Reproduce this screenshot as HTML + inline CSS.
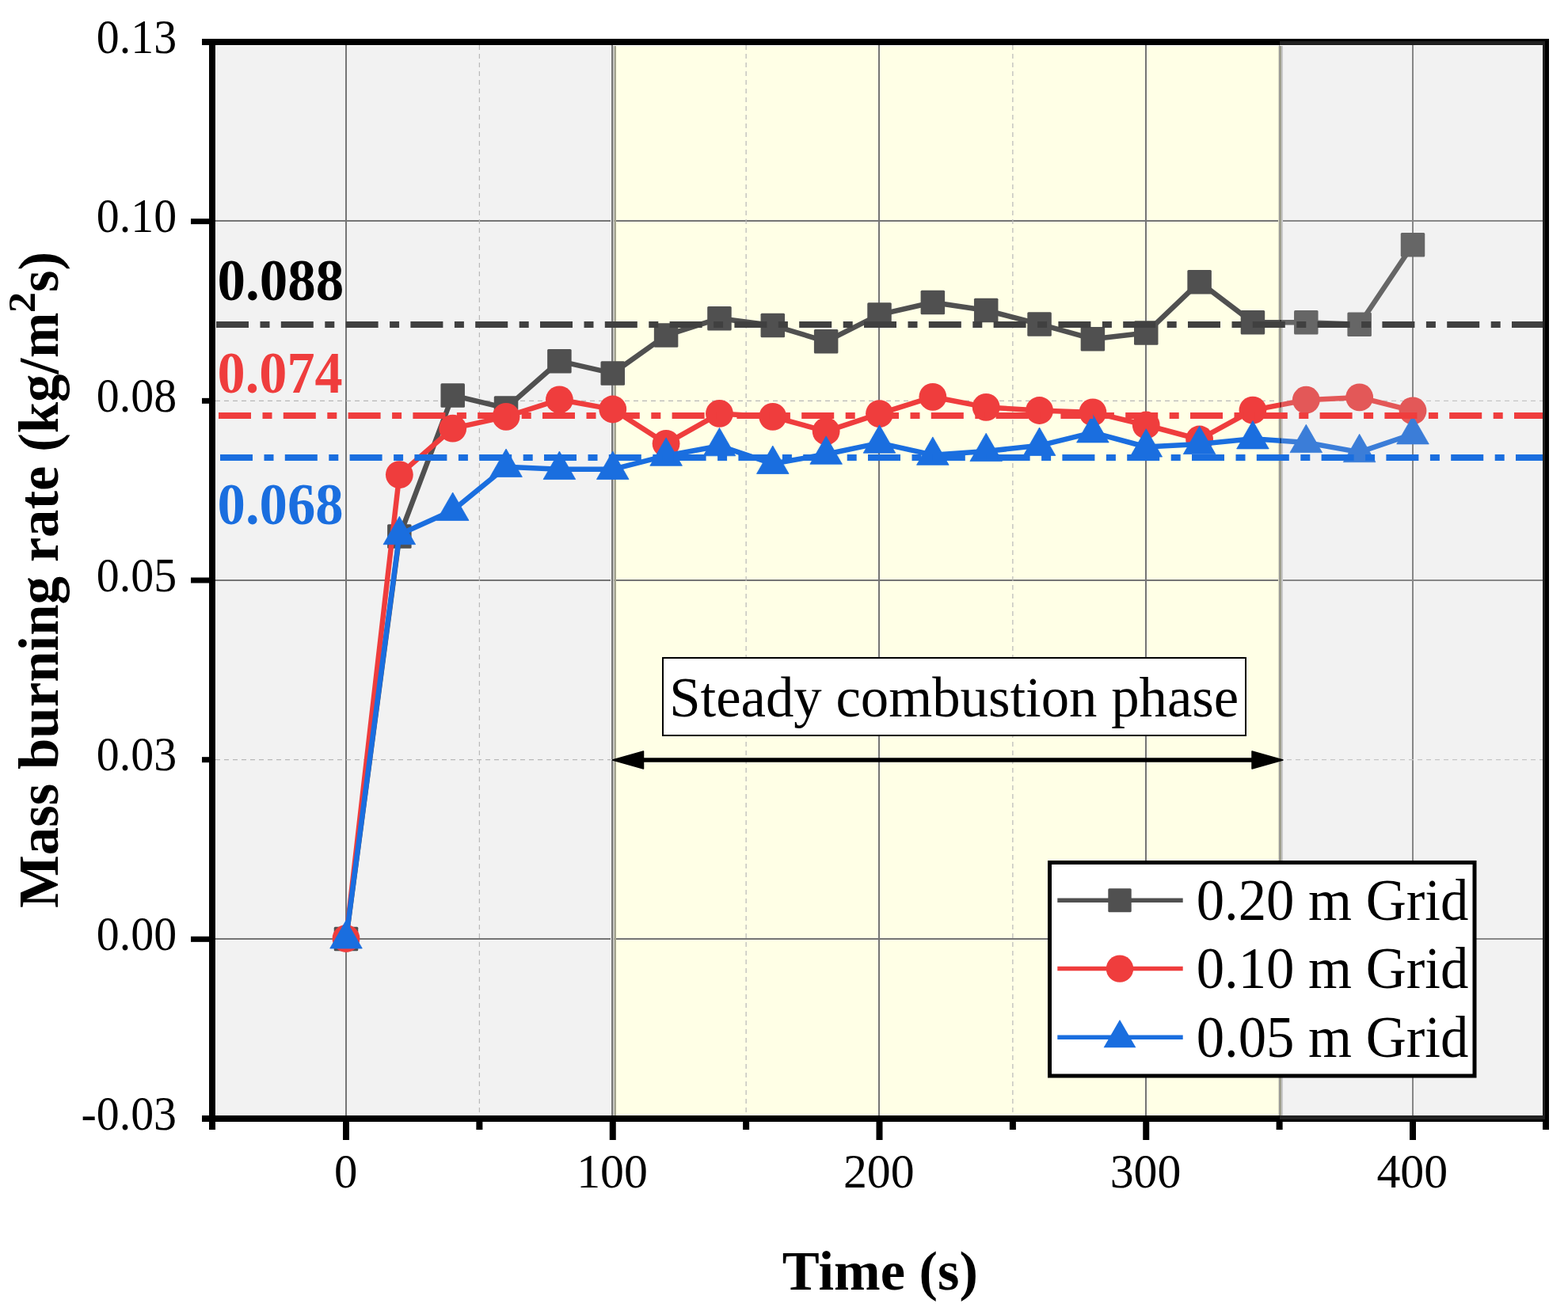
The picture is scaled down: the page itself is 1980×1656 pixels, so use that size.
<!DOCTYPE html>
<html><head><meta charset="utf-8"><title>Mass burning rate chart</title>
<style>html,body{margin:0;padding:0;background:#fff;}svg{display:block;}text{font-family:"Liberation Serif","Times New Roman",serif;}</style></head><body>
<svg width="1980" height="1656" viewBox="0 0 1980 1656">
<defs>
<clipPath id="cpL"><rect x="272.0" y="57.0" width="1346.0" height="1352.0"/></clipPath>
<clipPath id="cpR"><rect x="1618" y="57.0" width="330.0" height="1352.0"/></clipPath>
<clipPath id="cpP"><rect x="272.0" y="57.0" width="1676.0" height="1352.0"/></clipPath>
</defs>
<rect x="0" y="0" width="1980" height="1656" fill="#ffffff"/>
<rect x="273.0" y="58.0" width="1675.0" height="1351.0" fill="#f2f2f2"/>
<rect x="776" y="58.0" width="838" height="1351.0" fill="#ffffe6"/>
<g clip-path="url(#cpL)"><line x1="437" y1="57.0" x2="437" y2="1409.0" stroke="#757575" stroke-width="2"/><line x1="773" y1="57.0" x2="773" y2="1409.0" stroke="#757575" stroke-width="2"/><line x1="1110" y1="57.0" x2="1110" y2="1409.0" stroke="#757575" stroke-width="2"/><line x1="1447" y1="57.0" x2="1447" y2="1409.0" stroke="#757575" stroke-width="2"/><line x1="1784" y1="57.0" x2="1784" y2="1409.0" stroke="#757575" stroke-width="2"/><line x1="272.0" y1="279" x2="1948.0" y2="279" stroke="#757575" stroke-width="2"/><line x1="272.0" y1="733" x2="1948.0" y2="733" stroke="#757575" stroke-width="2"/><line x1="272.0" y1="1186" x2="1948.0" y2="1186" stroke="#757575" stroke-width="2"/><line x1="605.38" y1="57.0" x2="605.38" y2="1409.0" stroke="#b8b8b8" stroke-width="1.2" stroke-dasharray="6 5"/><line x1="942.12" y1="57.0" x2="942.12" y2="1409.0" stroke="#b8b8b8" stroke-width="1.2" stroke-dasharray="6 5"/><line x1="1278.88" y1="57.0" x2="1278.88" y2="1409.0" stroke="#b8b8b8" stroke-width="1.2" stroke-dasharray="6 5"/><line x1="1615.62" y1="57.0" x2="1615.62" y2="1409.0" stroke="#b8b8b8" stroke-width="1.2" stroke-dasharray="6 5"/><line x1="272.0" y1="506.4" x2="1948.0" y2="506.4" stroke="#b8b8b8" stroke-width="1.2" stroke-dasharray="6 5"/><line x1="272.0" y1="959.6" x2="1948.0" y2="959.6" stroke="#b8b8b8" stroke-width="1.2" stroke-dasharray="6 5"/></g>
<g clip-path="url(#cpR)"><line x1="437" y1="57.0" x2="437" y2="1409.0" stroke="#878787" stroke-width="2"/><line x1="773" y1="57.0" x2="773" y2="1409.0" stroke="#878787" stroke-width="2"/><line x1="1110" y1="57.0" x2="1110" y2="1409.0" stroke="#878787" stroke-width="2"/><line x1="1447" y1="57.0" x2="1447" y2="1409.0" stroke="#878787" stroke-width="2"/><line x1="1784" y1="57.0" x2="1784" y2="1409.0" stroke="#878787" stroke-width="2"/><line x1="272.0" y1="279" x2="1948.0" y2="279" stroke="#878787" stroke-width="2"/><line x1="272.0" y1="733" x2="1948.0" y2="733" stroke="#878787" stroke-width="2"/><line x1="272.0" y1="1186" x2="1948.0" y2="1186" stroke="#878787" stroke-width="2"/><line x1="605.38" y1="57.0" x2="605.38" y2="1409.0" stroke="#c5c5c5" stroke-width="1.2" stroke-dasharray="6 5"/><line x1="942.12" y1="57.0" x2="942.12" y2="1409.0" stroke="#c5c5c5" stroke-width="1.2" stroke-dasharray="6 5"/><line x1="1278.88" y1="57.0" x2="1278.88" y2="1409.0" stroke="#c5c5c5" stroke-width="1.2" stroke-dasharray="6 5"/><line x1="1615.62" y1="57.0" x2="1615.62" y2="1409.0" stroke="#c5c5c5" stroke-width="1.2" stroke-dasharray="6 5"/><line x1="272.0" y1="506.4" x2="1948.0" y2="506.4" stroke="#c5c5c5" stroke-width="1.2" stroke-dasharray="6 5"/><line x1="272.0" y1="959.6" x2="1948.0" y2="959.6" stroke="#c5c5c5" stroke-width="1.2" stroke-dasharray="6 5"/></g>
<rect x="771" y="58.0" width="1" height="1351.0" fill="#f8f8f8"/>
<rect x="774" y="58.0" width="1.6" height="1351.0" fill="#c6c6c2"/>
<rect x="775.6" y="58.0" width="2.4" height="1351.0" fill="#a3a38f"/>
<rect x="1614" y="58.0" width="1" height="1351.0" fill="#e0e0c8"/>
<rect x="1615" y="58.0" width="1" height="1351.0" fill="#999999"/>
<rect x="1616" y="58.0" width="2" height="1351.0" fill="#ffffe6"/>
<rect x="1618" y="58.0" width="2" height="1351.0" fill="#c8c8c8"/>
<g clip-path="url(#cpL)"><polyline points="437,1186 504.35,677.6 571.7,499.4 639.05,515.5 706.4,456.2 773.75,471.5 841.1,423.6 908.45,402.2 975.8,411 1043.15,431.3 1110.5,397.4 1177.85,382 1245.2,392 1312.55,409.4 1379.9,428.2 1447.25,420.6 1514.6,356.3 1581.95,407.3 1649.3,407.3 1716.65,409.8 1784,309.3" fill="none" stroke="#505050" stroke-width="6.5" stroke-linejoin="round"/><rect x="421.75" y="1170.75" width="30.5" height="30.5" rx="1.5" fill="#505050"/><rect x="489.1" y="662.35" width="30.5" height="30.5" rx="1.5" fill="#505050"/><rect x="556.45" y="484.15" width="30.5" height="30.5" rx="1.5" fill="#505050"/><rect x="623.8" y="500.25" width="30.5" height="30.5" rx="1.5" fill="#505050"/><rect x="691.15" y="440.95" width="30.5" height="30.5" rx="1.5" fill="#505050"/><rect x="758.5" y="456.25" width="30.5" height="30.5" rx="1.5" fill="#505050"/><rect x="825.85" y="408.35" width="30.5" height="30.5" rx="1.5" fill="#505050"/><rect x="893.2" y="386.95" width="30.5" height="30.5" rx="1.5" fill="#505050"/><rect x="960.55" y="395.75" width="30.5" height="30.5" rx="1.5" fill="#505050"/><rect x="1027.9" y="416.05" width="30.5" height="30.5" rx="1.5" fill="#505050"/><rect x="1095.25" y="382.15" width="30.5" height="30.5" rx="1.5" fill="#505050"/><rect x="1162.6" y="366.75" width="30.5" height="30.5" rx="1.5" fill="#505050"/><rect x="1229.95" y="376.75" width="30.5" height="30.5" rx="1.5" fill="#505050"/><rect x="1297.3" y="394.15" width="30.5" height="30.5" rx="1.5" fill="#505050"/><rect x="1364.65" y="412.95" width="30.5" height="30.5" rx="1.5" fill="#505050"/><rect x="1432" y="405.35" width="30.5" height="30.5" rx="1.5" fill="#505050"/><rect x="1499.35" y="341.05" width="30.5" height="30.5" rx="1.5" fill="#505050"/><rect x="1566.7" y="392.05" width="30.5" height="30.5" rx="1.5" fill="#505050"/><rect x="1634.05" y="392.05" width="30.5" height="30.5" rx="1.5" fill="#505050"/><rect x="1701.4" y="394.55" width="30.5" height="30.5" rx="1.5" fill="#505050"/><rect x="1768.75" y="294.05" width="30.5" height="30.5" rx="1.5" fill="#505050"/><polyline points="437,1185.5 504.35,599.6 571.7,541.2 639.05,526.3 706.4,504.8 773.75,517 841.1,560.3 908.45,522.4 975.8,526.4 1043.15,544.8 1110.5,522.6 1177.85,501.3 1245.2,514.4 1312.55,518.5 1379.9,520.9 1447.25,537 1514.6,555 1581.95,518.1 1649.3,505.2 1716.65,501.9 1784,518.9" fill="none" stroke="#ef3d3d" stroke-width="6.5" stroke-linejoin="round"/><circle cx="437" cy="1185.5" r="17.4" fill="#ef3d3d"/><circle cx="504.35" cy="599.6" r="17.4" fill="#ef3d3d"/><circle cx="571.7" cy="541.2" r="17.4" fill="#ef3d3d"/><circle cx="639.05" cy="526.3" r="17.4" fill="#ef3d3d"/><circle cx="706.4" cy="504.8" r="17.4" fill="#ef3d3d"/><circle cx="773.75" cy="517" r="17.4" fill="#ef3d3d"/><circle cx="841.1" cy="560.3" r="17.4" fill="#ef3d3d"/><circle cx="908.45" cy="522.4" r="17.4" fill="#ef3d3d"/><circle cx="975.8" cy="526.4" r="17.4" fill="#ef3d3d"/><circle cx="1043.15" cy="544.8" r="17.4" fill="#ef3d3d"/><circle cx="1110.5" cy="522.6" r="17.4" fill="#ef3d3d"/><circle cx="1177.85" cy="501.3" r="17.4" fill="#ef3d3d"/><circle cx="1245.2" cy="514.4" r="17.4" fill="#ef3d3d"/><circle cx="1312.55" cy="518.5" r="17.4" fill="#ef3d3d"/><circle cx="1379.9" cy="520.9" r="17.4" fill="#ef3d3d"/><circle cx="1447.25" cy="537" r="17.4" fill="#ef3d3d"/><circle cx="1514.6" cy="555" r="17.4" fill="#ef3d3d"/><circle cx="1581.95" cy="518.1" r="17.4" fill="#ef3d3d"/><circle cx="1649.3" cy="505.2" r="17.4" fill="#ef3d3d"/><circle cx="1716.65" cy="501.9" r="17.4" fill="#ef3d3d"/><circle cx="1784" cy="518.9" r="17.4" fill="#ef3d3d"/><polyline points="437,1185.4 504.35,675.1 571.7,644.8 639.05,589.8 706.4,592.8 773.75,592.8 841.1,575.7 908.45,563.2 975.8,585.8 1043.15,573.7 1110.5,559.6 1177.85,574.7 1245.2,570 1312.55,562.8 1379.9,546.3 1447.25,564.5 1514.6,561 1581.95,554.3 1649.3,559 1716.65,571.1 1784,548.3" fill="none" stroke="#1a6edf" stroke-width="6.5" stroke-linejoin="round"/><polygon points="437,1162.6 457.3,1198 416.7,1198" fill="#1a6edf" stroke="#1a6edf" stroke-width="0.8" stroke-linejoin="round"/><polygon points="504.35,652.3 524.65,687.7 484.05,687.7" fill="#1a6edf" stroke="#1a6edf" stroke-width="0.8" stroke-linejoin="round"/><polygon points="571.7,622 592,657.4 551.4,657.4" fill="#1a6edf" stroke="#1a6edf" stroke-width="0.8" stroke-linejoin="round"/><polygon points="639.05,567 659.35,602.4 618.75,602.4" fill="#1a6edf" stroke="#1a6edf" stroke-width="0.8" stroke-linejoin="round"/><polygon points="706.4,570 726.7,605.4 686.1,605.4" fill="#1a6edf" stroke="#1a6edf" stroke-width="0.8" stroke-linejoin="round"/><polygon points="773.75,570 794.05,605.4 753.45,605.4" fill="#1a6edf" stroke="#1a6edf" stroke-width="0.8" stroke-linejoin="round"/><polygon points="841.1,552.9 861.4,588.3 820.8,588.3" fill="#1a6edf" stroke="#1a6edf" stroke-width="0.8" stroke-linejoin="round"/><polygon points="908.45,540.4 928.75,575.8 888.15,575.8" fill="#1a6edf" stroke="#1a6edf" stroke-width="0.8" stroke-linejoin="round"/><polygon points="975.8,563 996.1,598.4 955.5,598.4" fill="#1a6edf" stroke="#1a6edf" stroke-width="0.8" stroke-linejoin="round"/><polygon points="1043.15,550.9 1063.45,586.3 1022.85,586.3" fill="#1a6edf" stroke="#1a6edf" stroke-width="0.8" stroke-linejoin="round"/><polygon points="1110.5,536.8 1130.8,572.2 1090.2,572.2" fill="#1a6edf" stroke="#1a6edf" stroke-width="0.8" stroke-linejoin="round"/><polygon points="1177.85,551.9 1198.15,587.3 1157.55,587.3" fill="#1a6edf" stroke="#1a6edf" stroke-width="0.8" stroke-linejoin="round"/><polygon points="1245.2,547.2 1265.5,582.6 1224.9,582.6" fill="#1a6edf" stroke="#1a6edf" stroke-width="0.8" stroke-linejoin="round"/><polygon points="1312.55,540 1332.85,575.4 1292.25,575.4" fill="#1a6edf" stroke="#1a6edf" stroke-width="0.8" stroke-linejoin="round"/><polygon points="1379.9,523.5 1400.2,558.9 1359.6,558.9" fill="#1a6edf" stroke="#1a6edf" stroke-width="0.8" stroke-linejoin="round"/><polygon points="1447.25,541.7 1467.55,577.1 1426.95,577.1" fill="#1a6edf" stroke="#1a6edf" stroke-width="0.8" stroke-linejoin="round"/><polygon points="1514.6,538.2 1534.9,573.6 1494.3,573.6" fill="#1a6edf" stroke="#1a6edf" stroke-width="0.8" stroke-linejoin="round"/><polygon points="1581.95,531.5 1602.25,566.9 1561.65,566.9" fill="#1a6edf" stroke="#1a6edf" stroke-width="0.8" stroke-linejoin="round"/><polygon points="1649.3,536.2 1669.6,571.6 1629,571.6" fill="#1a6edf" stroke="#1a6edf" stroke-width="0.8" stroke-linejoin="round"/><polygon points="1716.65,548.3 1736.95,583.7 1696.35,583.7" fill="#1a6edf" stroke="#1a6edf" stroke-width="0.8" stroke-linejoin="round"/><polygon points="1784,525.5 1804.3,560.9 1763.7,560.9" fill="#1a6edf" stroke="#1a6edf" stroke-width="0.8" stroke-linejoin="round"/></g>
<g clip-path="url(#cpR)"><polyline points="437,1186 504.35,677.6 571.7,499.4 639.05,515.5 706.4,456.2 773.75,471.5 841.1,423.6 908.45,402.2 975.8,411 1043.15,431.3 1110.5,397.4 1177.85,382 1245.2,392 1312.55,409.4 1379.9,428.2 1447.25,420.6 1514.6,356.3 1581.95,407.3 1649.3,407.3 1716.65,409.8 1784,309.3" fill="none" stroke="#666666" stroke-width="6.5" stroke-linejoin="round"/><rect x="421.75" y="1170.75" width="30.5" height="30.5" rx="1.5" fill="#666666"/><rect x="489.1" y="662.35" width="30.5" height="30.5" rx="1.5" fill="#666666"/><rect x="556.45" y="484.15" width="30.5" height="30.5" rx="1.5" fill="#666666"/><rect x="623.8" y="500.25" width="30.5" height="30.5" rx="1.5" fill="#666666"/><rect x="691.15" y="440.95" width="30.5" height="30.5" rx="1.5" fill="#666666"/><rect x="758.5" y="456.25" width="30.5" height="30.5" rx="1.5" fill="#666666"/><rect x="825.85" y="408.35" width="30.5" height="30.5" rx="1.5" fill="#666666"/><rect x="893.2" y="386.95" width="30.5" height="30.5" rx="1.5" fill="#666666"/><rect x="960.55" y="395.75" width="30.5" height="30.5" rx="1.5" fill="#666666"/><rect x="1027.9" y="416.05" width="30.5" height="30.5" rx="1.5" fill="#666666"/><rect x="1095.25" y="382.15" width="30.5" height="30.5" rx="1.5" fill="#666666"/><rect x="1162.6" y="366.75" width="30.5" height="30.5" rx="1.5" fill="#666666"/><rect x="1229.95" y="376.75" width="30.5" height="30.5" rx="1.5" fill="#666666"/><rect x="1297.3" y="394.15" width="30.5" height="30.5" rx="1.5" fill="#666666"/><rect x="1364.65" y="412.95" width="30.5" height="30.5" rx="1.5" fill="#666666"/><rect x="1432" y="405.35" width="30.5" height="30.5" rx="1.5" fill="#666666"/><rect x="1499.35" y="341.05" width="30.5" height="30.5" rx="1.5" fill="#666666"/><rect x="1566.7" y="392.05" width="30.5" height="30.5" rx="1.5" fill="#666666"/><rect x="1634.05" y="392.05" width="30.5" height="30.5" rx="1.5" fill="#666666"/><rect x="1701.4" y="394.55" width="30.5" height="30.5" rx="1.5" fill="#666666"/><rect x="1768.75" y="294.05" width="30.5" height="30.5" rx="1.5" fill="#666666"/><polyline points="437,1185.5 504.35,599.6 571.7,541.2 639.05,526.3 706.4,504.8 773.75,517 841.1,560.3 908.45,522.4 975.8,526.4 1043.15,544.8 1110.5,522.6 1177.85,501.3 1245.2,514.4 1312.55,518.5 1379.9,520.9 1447.25,537 1514.6,555 1581.95,518.1 1649.3,505.2 1716.65,501.9 1784,518.9" fill="none" stroke="#e35858" stroke-width="6.5" stroke-linejoin="round"/><circle cx="437" cy="1185.5" r="17.4" fill="#e35858"/><circle cx="504.35" cy="599.6" r="17.4" fill="#e35858"/><circle cx="571.7" cy="541.2" r="17.4" fill="#e35858"/><circle cx="639.05" cy="526.3" r="17.4" fill="#e35858"/><circle cx="706.4" cy="504.8" r="17.4" fill="#e35858"/><circle cx="773.75" cy="517" r="17.4" fill="#e35858"/><circle cx="841.1" cy="560.3" r="17.4" fill="#e35858"/><circle cx="908.45" cy="522.4" r="17.4" fill="#e35858"/><circle cx="975.8" cy="526.4" r="17.4" fill="#e35858"/><circle cx="1043.15" cy="544.8" r="17.4" fill="#e35858"/><circle cx="1110.5" cy="522.6" r="17.4" fill="#e35858"/><circle cx="1177.85" cy="501.3" r="17.4" fill="#e35858"/><circle cx="1245.2" cy="514.4" r="17.4" fill="#e35858"/><circle cx="1312.55" cy="518.5" r="17.4" fill="#e35858"/><circle cx="1379.9" cy="520.9" r="17.4" fill="#e35858"/><circle cx="1447.25" cy="537" r="17.4" fill="#e35858"/><circle cx="1514.6" cy="555" r="17.4" fill="#e35858"/><circle cx="1581.95" cy="518.1" r="17.4" fill="#e35858"/><circle cx="1649.3" cy="505.2" r="17.4" fill="#e35858"/><circle cx="1716.65" cy="501.9" r="17.4" fill="#e35858"/><circle cx="1784" cy="518.9" r="17.4" fill="#e35858"/><polyline points="437,1185.4 504.35,675.1 571.7,644.8 639.05,589.8 706.4,592.8 773.75,592.8 841.1,575.7 908.45,563.2 975.8,585.8 1043.15,573.7 1110.5,559.6 1177.85,574.7 1245.2,570 1312.55,562.8 1379.9,546.3 1447.25,564.5 1514.6,561 1581.95,554.3 1649.3,559 1716.65,571.1 1784,548.3" fill="none" stroke="#3b7dd8" stroke-width="6.5" stroke-linejoin="round"/><polygon points="437,1162.6 457.3,1198 416.7,1198" fill="#3b7dd8" stroke="#3b7dd8" stroke-width="0.8" stroke-linejoin="round"/><polygon points="504.35,652.3 524.65,687.7 484.05,687.7" fill="#3b7dd8" stroke="#3b7dd8" stroke-width="0.8" stroke-linejoin="round"/><polygon points="571.7,622 592,657.4 551.4,657.4" fill="#3b7dd8" stroke="#3b7dd8" stroke-width="0.8" stroke-linejoin="round"/><polygon points="639.05,567 659.35,602.4 618.75,602.4" fill="#3b7dd8" stroke="#3b7dd8" stroke-width="0.8" stroke-linejoin="round"/><polygon points="706.4,570 726.7,605.4 686.1,605.4" fill="#3b7dd8" stroke="#3b7dd8" stroke-width="0.8" stroke-linejoin="round"/><polygon points="773.75,570 794.05,605.4 753.45,605.4" fill="#3b7dd8" stroke="#3b7dd8" stroke-width="0.8" stroke-linejoin="round"/><polygon points="841.1,552.9 861.4,588.3 820.8,588.3" fill="#3b7dd8" stroke="#3b7dd8" stroke-width="0.8" stroke-linejoin="round"/><polygon points="908.45,540.4 928.75,575.8 888.15,575.8" fill="#3b7dd8" stroke="#3b7dd8" stroke-width="0.8" stroke-linejoin="round"/><polygon points="975.8,563 996.1,598.4 955.5,598.4" fill="#3b7dd8" stroke="#3b7dd8" stroke-width="0.8" stroke-linejoin="round"/><polygon points="1043.15,550.9 1063.45,586.3 1022.85,586.3" fill="#3b7dd8" stroke="#3b7dd8" stroke-width="0.8" stroke-linejoin="round"/><polygon points="1110.5,536.8 1130.8,572.2 1090.2,572.2" fill="#3b7dd8" stroke="#3b7dd8" stroke-width="0.8" stroke-linejoin="round"/><polygon points="1177.85,551.9 1198.15,587.3 1157.55,587.3" fill="#3b7dd8" stroke="#3b7dd8" stroke-width="0.8" stroke-linejoin="round"/><polygon points="1245.2,547.2 1265.5,582.6 1224.9,582.6" fill="#3b7dd8" stroke="#3b7dd8" stroke-width="0.8" stroke-linejoin="round"/><polygon points="1312.55,540 1332.85,575.4 1292.25,575.4" fill="#3b7dd8" stroke="#3b7dd8" stroke-width="0.8" stroke-linejoin="round"/><polygon points="1379.9,523.5 1400.2,558.9 1359.6,558.9" fill="#3b7dd8" stroke="#3b7dd8" stroke-width="0.8" stroke-linejoin="round"/><polygon points="1447.25,541.7 1467.55,577.1 1426.95,577.1" fill="#3b7dd8" stroke="#3b7dd8" stroke-width="0.8" stroke-linejoin="round"/><polygon points="1514.6,538.2 1534.9,573.6 1494.3,573.6" fill="#3b7dd8" stroke="#3b7dd8" stroke-width="0.8" stroke-linejoin="round"/><polygon points="1581.95,531.5 1602.25,566.9 1561.65,566.9" fill="#3b7dd8" stroke="#3b7dd8" stroke-width="0.8" stroke-linejoin="round"/><polygon points="1649.3,536.2 1669.6,571.6 1629,571.6" fill="#3b7dd8" stroke="#3b7dd8" stroke-width="0.8" stroke-linejoin="round"/><polygon points="1716.65,548.3 1736.95,583.7 1696.35,583.7" fill="#3b7dd8" stroke="#3b7dd8" stroke-width="0.8" stroke-linejoin="round"/><polygon points="1784,525.5 1804.3,560.9 1763.7,560.9" fill="#3b7dd8" stroke="#3b7dd8" stroke-width="0.8" stroke-linejoin="round"/></g>
<rect x="1616" y="58.0" width="2" height="1351.0" fill="#000000" fill-opacity="0.375"/>
<g clip-path="url(#cpP)">
<line x1="273" y1="410" x2="1948.0" y2="410" stroke="#404040" stroke-width="8" stroke-dasharray="41 14.5 12 14.3"/>
<line x1="276" y1="525" x2="1948.0" y2="525" stroke="#ef3d3d" stroke-width="8" stroke-dasharray="41 14.5 12 14.3"/>
<line x1="278" y1="578" x2="1948.0" y2="578" stroke="#1a6edf" stroke-width="8" stroke-dasharray="41 14.5 12 14.3"/>
</g>
<text x="274.56" y="378.80" font-size="75" font-weight="bold" fill="#000000" textLength="159.64" lengthAdjust="spacingAndGlyphs">0.088</text>
<text x="274.59" y="495.50" font-size="75" font-weight="bold" fill="#ef3d3d" textLength="158.05" lengthAdjust="spacingAndGlyphs">0.074</text>
<text x="274.57" y="662.00" font-size="75" font-weight="bold" fill="#1a6edf" textLength="159.02" lengthAdjust="spacingAndGlyphs">0.068</text>
<rect x="837" y="831" width="736" height="98" fill="#ffffff" stroke="#000000" stroke-width="2"/>
<text x="845.18" y="904.80" font-size="72" fill="#000000" textLength="719.07" lengthAdjust="spacingAndGlyphs">Steady combustion phase</text>
<line x1="808" y1="960" x2="1585" y2="960" stroke="#000000" stroke-width="5.4"/>
<polygon points="773.5,960 812.5,949 812.5,971" fill="#000" stroke="#000" stroke-width="1.5" stroke-linejoin="round"/>
<polygon points="1620,960 1581,949 1581,971" fill="#000" stroke="#000" stroke-width="1.5" stroke-linejoin="round"/>
<rect x="1325.5" y="1089.5" width="536.5" height="269.5" fill="#ffffff" stroke="#000000" stroke-width="5"/>
<line x1="1335.3" y1="1137.2" x2="1493.7" y2="1137.2" stroke="#505050" stroke-width="5.5"/>
<rect x="1399.3" y="1122.2" width="29.4" height="30" rx="1.5" fill="#505050"/>
<line x1="1335.3" y1="1223.6" x2="1493.7" y2="1223.6" stroke="#ef3d3d" stroke-width="5.5"/>
<circle cx="1414" cy="1223.6" r="17.2" fill="#ef3d3d"/>
<line x1="1335.3" y1="1310.3" x2="1493.7" y2="1310.3" stroke="#1a6edf" stroke-width="5.5"/>
<polygon points="1414,1287.9 1434.4,1323.3 1393.6,1323.3" fill="#1a6edf"/>
<text x="1510.67" y="1161.50" font-size="73" fill="#000000" textLength="343.67" lengthAdjust="spacingAndGlyphs">0.20 m Grid</text>
<text x="1510.67" y="1248.20" font-size="73" fill="#000000" textLength="343.67" lengthAdjust="spacingAndGlyphs">0.10 m Grid</text>
<text x="1510.67" y="1334.80" font-size="73" fill="#000000" textLength="343.67" lengthAdjust="spacingAndGlyphs">0.05 m Grid</text>
<rect x="255" y="49" width="1701" height="8" fill="#000"/>
<rect x="264" y="49" width="8" height="1378" fill="#000"/>
<rect x="255" y="1409" width="1701" height="8" fill="#000"/>
<rect x="1948" y="49" width="8" height="1378" fill="#000"/>
<rect x="241" y="276.17" width="23" height="7" fill="#000"/>
<rect x="241" y="729.5" width="23" height="7" fill="#000"/>
<rect x="241" y="1182.84" width="23" height="7" fill="#000"/>
<rect x="255" y="502.84" width="9" height="7" fill="#000"/>
<rect x="255" y="956.17" width="9" height="7" fill="#000"/>
<rect x="433" y="1417" width="8" height="23" fill="#000"/>
<rect x="769.75" y="1417" width="8" height="23" fill="#000"/>
<rect x="1106.5" y="1417" width="8" height="23" fill="#000"/>
<rect x="1443.25" y="1417" width="8" height="23" fill="#000"/>
<rect x="1780" y="1417" width="8" height="23" fill="#000"/>
<rect x="601.38" y="1417" width="8" height="10" fill="#000"/>
<rect x="938.12" y="1417" width="8" height="10" fill="#000"/>
<rect x="1274.88" y="1417" width="8" height="10" fill="#000"/>
<rect x="1611.62" y="1417" width="8" height="10" fill="#000"/>
<rect x="1616" y="52" width="335" height="5" fill="#222222"/>
<rect x="1616" y="1409" width="335" height="5" fill="#222222"/>
<rect x="1948" y="52" width="3" height="1362" fill="#202020"/>
<text x="121.86" y="66.80" font-size="61.5" fill="#000000" textLength="101.20" lengthAdjust="spacingAndGlyphs">0.13</text>
<text x="121.86" y="293.47" font-size="61.5" fill="#000000" textLength="101.20" lengthAdjust="spacingAndGlyphs">0.10</text>
<text x="121.86" y="520.13" font-size="61.5" fill="#000000" textLength="101.20" lengthAdjust="spacingAndGlyphs">0.08</text>
<text x="121.86" y="746.80" font-size="61.5" fill="#000000" textLength="101.20" lengthAdjust="spacingAndGlyphs">0.05</text>
<text x="121.86" y="973.47" font-size="61.5" fill="#000000" textLength="101.20" lengthAdjust="spacingAndGlyphs">0.03</text>
<text x="121.86" y="1200.14" font-size="61.5" fill="#000000" textLength="101.20" lengthAdjust="spacingAndGlyphs">0.00</text>
<text x="102.56" y="1426.81" font-size="61.5" fill="#000000" textLength="120.49" lengthAdjust="spacingAndGlyphs">-0.03</text>
<text x="422.03" y="1500.00" font-size="61.5" fill="#000000" textLength="29.40" lengthAdjust="spacingAndGlyphs">0</text>
<text x="728.15" y="1500.00" font-size="61.5" fill="#000000" textLength="89.72" lengthAdjust="spacingAndGlyphs">100</text>
<text x="1064.90" y="1500.00" font-size="61.5" fill="#000000" textLength="89.72" lengthAdjust="spacingAndGlyphs">200</text>
<text x="1401.65" y="1500.00" font-size="61.5" fill="#000000" textLength="89.72" lengthAdjust="spacingAndGlyphs">300</text>
<text x="1738.40" y="1500.00" font-size="61.5" fill="#000000" textLength="89.72" lengthAdjust="spacingAndGlyphs">400</text>
<text x="987.79" y="1628.60" font-size="70" font-weight="bold" fill="#000000" textLength="247.05" lengthAdjust="spacingAndGlyphs">Time (s)</text>
<g transform="translate(73,0) rotate(-90)">
<text x="-1147.00" y="0.00" font-size="71" font-weight="bold" fill="#000000" textLength="694.15" lengthAdjust="spacingAndGlyphs">Mass burning rate (kg/</text>
<text x="-452.04" y="0.00" font-size="71" font-weight="bold" fill="#000000" textLength="57.36" lengthAdjust="spacingAndGlyphs">m</text>
<text x="-395.34" y="-29.00" font-size="49" font-weight="bold" fill="#000000" textLength="26.34" lengthAdjust="spacingAndGlyphs">2</text>
<text x="-369.00" y="0.00" font-size="71" font-weight="bold" fill="#000000" textLength="51.17" lengthAdjust="spacingAndGlyphs">s)</text>
</g>
</svg>
</body></html>
